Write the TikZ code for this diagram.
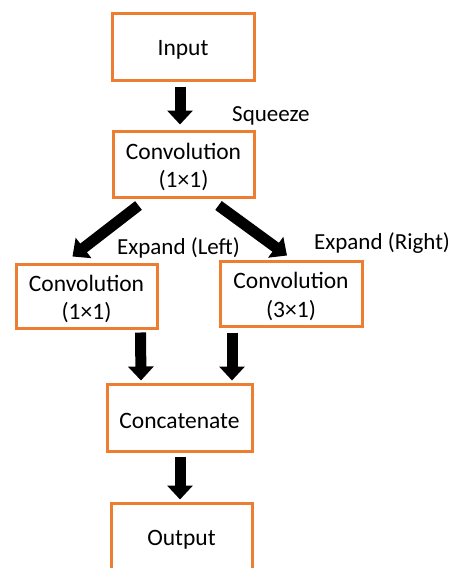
\documentclass[tikz,border=0pt]{standalone}
\usepackage{fontspec}
\setmainfont{Carlito}
\usetikzlibrary{arrows.meta,calc}
\definecolor{boxorange}{HTML}{ED7D31}
\begin{document}
\begin{tikzpicture}[x=1pt,y=-1pt,
  blktxt/.style={align=center,inner sep=0pt,yshift=-3pt,font=\fontsize{23.5}{28.5}\selectfont},
  blk/.style={draw=boxorange,line width=3pt,fill=white,inner sep=0pt,
    label={[blktxt]center:{#1}}},
  lbl/.style={font=\fontsize{23}{27}\selectfont,anchor=west,inner sep=0pt},
  barrow/.style={line width=11pt,-{Triangle[width=25pt,length=14pt]}}]
\clip (0,0) rectangle (452,568);
\fill[white] (0,0) rectangle (452,568);
\node[blk={Input},minimum width=142pt,minimum height=67pt] (in) at (183,46.5) {};
\node[blk={Convolution\\(1×1)},minimum width=141pt,minimum height=66pt] (c1) at (183.5,164) {};
\node[blk={Convolution\\(1×1)},minimum width=141pt,minimum height=64pt] (cl) at (86.5,296) {};
\node[blk={Convolution\\(3×1)},minimum width=142pt,minimum height=65pt] (cr) at (291,293.5) {};
\node[blk={Concatenate},minimum width=145pt,minimum height=67pt] (cc) at (179.5,417.5) {};
\node[blk={Output},minimum width=141pt,minimum height=68pt] (out) at (181.5,537) {};
\node[lbl] (sq) at (232,116) {Squeeze};
\node[lbl] (el) at (117,248) {Expand (Left)};
\node[lbl] (er) at (314,243) {Expand (Right)};
\draw[barrow] ($(in.south)+(-3,5)$) -- ($(c1.north)+(-3.5,-5)$);
\draw[barrow] ($(c1.south)+(-45,7)$) -- ($(cl.north)+(-14,-6)$);
\draw[barrow] ($(c1.south)+(35,7)$) -- ($(cr.north)+(-4,-4)$);
\draw[barrow] ($(cl.south)+(54,3)$) -- ($(cc.north)+(-38.5,-2)$);
\draw[barrow] ($(cr.south)+(-59,5)$) -- ($(cc.north)+(52.5,-2)$);
\draw[barrow] ($(cc.south)+(0.5,4)$) -- ($(out.north)+(-1.5,-2)$);
\end{tikzpicture}
\end{document}
